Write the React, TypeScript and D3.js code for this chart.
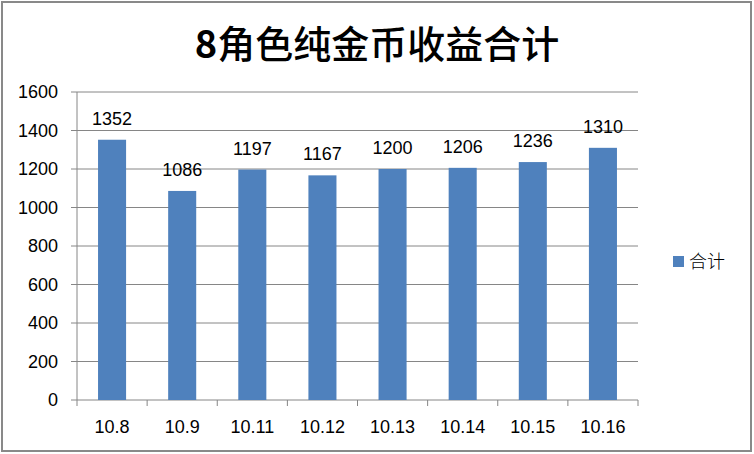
import React from "react";
import * as d3 from "d3";

const categories = ["10.8", "10.9", "10.11", "10.12", "10.13", "10.14", "10.15", "10.16"];
const totals = [1352, 1086, 1197, 1167, 1200, 1206, 1236, 1310];
const yTicks = [0, 200, 400, 600, 800, 1000, 1200, 1400, 1600];
const titleNum = "8";
const titleText = "角色纯金币收益合计";
const seriesName = "合计";

const W = 754;
const H = 454;
const plot = { left: 77, right: 638, top: 92, bottom: 400 };
const barColor = "#4F81BD";
const gridColor = "#868686";
const numFont = "'Liberation Sans', Arial, sans-serif";
const cjkFont = "'Noto Sans CJK SC', sans-serif";

export default function App() {
  const x = d3
    .scaleBand<string>()
    .domain(categories)
    .range([plot.left, plot.right])
    .paddingInner(0.6)
    .paddingOuter(0.3);
  const y = d3.scaleLinear().domain([0, 1600]).range([plot.bottom, plot.top]);
  const step = x.step();

  return (
    <svg
      width={W}
      height={H}
      style={{ position: "absolute", left: 0, top: 0, background: "#fff" }}
    >
      <rect x={0} y={0} width={W} height={H} fill="#fff" />
      <rect x={2} y={2} width={749} height={449} fill="#fff" stroke="#898989" strokeWidth={2} />
      <text x={377} y={58} textAnchor="middle" fontFamily={cjkFont} fontSize={38} fill="#000">
        <tspan fontWeight={700}>{titleNum}</tspan>
        <tspan fontWeight={500}>{titleText}</tspan>
      </text>
      {yTicks.map((t) => (
        <g key={t}>
          {t > 0 && (
            <line x1={plot.left} x2={plot.right} y1={y(t)} y2={y(t)} stroke={gridColor} strokeWidth={1} />
          )}
          <line x1={71} x2={plot.left} y1={y(t)} y2={y(t)} stroke={gridColor} strokeWidth={1} />
          <text
            x={58}
            y={y(t)}
            dy="0.36em"
            textAnchor="end"
            fontFamily={numFont}
            fontSize={18}
            fill="#000"
          >
            {t}
          </text>
        </g>
      ))}
      <line x1={plot.left} x2={plot.left} y1={plot.top} y2={plot.bottom} stroke={gridColor} strokeWidth={1} />
      <line x1={plot.left} x2={plot.right} y1={plot.bottom} y2={plot.bottom} stroke={gridColor} strokeWidth={1} />
      {categories.map((c, i) => {
        const bx = plot.left + step * i;
        return <line key={"t" + c} x1={bx} x2={bx} y1={plot.bottom} y2={plot.bottom + 6} stroke={gridColor} strokeWidth={1} />;
      })}
      <line x1={plot.right} x2={plot.right} y1={plot.bottom} y2={plot.bottom + 6} stroke={gridColor} strokeWidth={1} />
      {categories.map((c, i) => {
        const bx = x(c) as number;
        const v = totals[i];
        return (
          <g key={c}>
            <rect x={bx} y={y(v)} width={x.bandwidth()} height={plot.bottom - y(v)} fill={barColor} />
            <text
              x={bx + x.bandwidth() / 2}
              y={y(v) - 15}
              textAnchor="middle"
              fontFamily={numFont}
              fontSize={18}
              fill="#000"
            >
              {v}
            </text>
            <text
              x={bx + x.bandwidth() / 2}
              y={427}
              dy="0.36em"
              textAnchor="middle"
              fontFamily={numFont}
              fontSize={18}
              fill="#000"
            >
              {c}
            </text>
          </g>
        );
      })}
      <rect x={673} y={256} width={11} height={11} fill={barColor} />
      <text x={689} y={262} dy="0.36em" fontFamily={cjkFont} fontWeight={300} fontSize={18} fill="#000">
        {seriesName}
      </text>
    </svg>
  );
}
